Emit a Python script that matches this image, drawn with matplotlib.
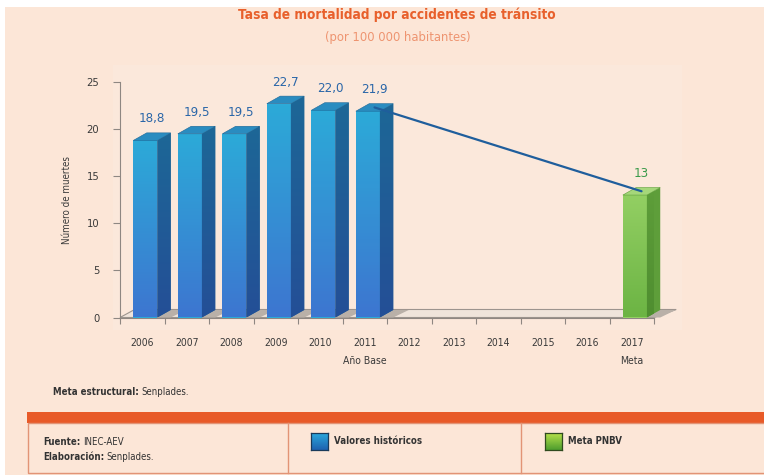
import numpy as np
import matplotlib
matplotlib.use("Agg")
import matplotlib.pyplot as plt
from matplotlib.patches import Polygon, Rectangle
from matplotlib.colors import LinearSegmentedColormap
from matplotlib import font_manager

# ---------------- data ----------------
years = ['2006', '2007', '2008', '2009', '2010', '2011',
         '2012', '2013', '2014', '2015', '2016', '2017']
hist_years = ['2006', '2007', '2008', '2009', '2010', '2011']
hist_values = [18.8, 19.5, 19.5, 22.7, 22.0, 21.9]
hist_labels = ['18,8', '19,5', '19,5', '22,7', '22,0', '21,9']
meta_year = '2017'
meta_value = 13
meta_label = '13'
yticks = [0, 5, 10, 15, 20, 25]
title = 'Tasa de mortalidad por accidentes de tránsito'
subtitle = '(por 100 000 habitantes)'
ylabel = 'Número de muertes'

names = {f.name for f in font_manager.fontManager.ttflist}
cond = [f for f in font_manager.fontManager.ttflist
        if f.name == 'DejaVu Sans' and f.stretch in ('condensed', 'semi-condensed', 600, 500)]
if 'Liberation Sans Narrow' in names:
    FONT = ['Liberation Sans Narrow', 'DejaVu Sans']
    plt.rcParams['font.stretch'] = 'normal'
elif cond:
    FONT = ['DejaVu Sans']
    plt.rcParams['font.stretch'] = 'condensed'
else:
    FONT = ['Liberation Sans', 'DejaVu Sans']
plt.rcParams['font.family'] = FONT

W, H = 764, 475
fig = plt.figure(figsize=(W / 100, H / 100), dpi=100)
fig.patch.set_facecolor('white')

def fx(px):
    return px / W

def fy(py):
    return 1 - py / H

BG = '#FCE6D7'
fig.add_artist(Rectangle((fx(5), 0), 1, fy(7), transform=fig.transFigure,
                         facecolor=BG, edgecolor='none', zorder=-10))
fig.add_artist(Rectangle((fx(113), fy(330)), fx(682 - 113), (330 - 65) / H,
                         transform=fig.transFigure, facecolor='#FBE8DB',
                         edgecolor='none', zorder=-9))

# ---------------- axes ----------------
ax_l, ax_r, ax_t, ax_b = 120, 654, 82, 317.5
ax = fig.add_axes([fx(ax_l), fy(ax_b), fx(ax_r - ax_l), (ax_b - ax_t) / H])
ax.set_facecolor('none')
n = len(years)
ax.set_xlim(-0.5, n - 0.5)
ax.set_ylim(0, 25)

xpos = {y: i for i, y in enumerate(years)}
DX, DY = 0.30, 0.8
FL, FR = -0.2, 0.34

def grad_fill(ax, patch, c_top, c_bot):
    cmap = LinearSegmentedColormap.from_list('g', [c_bot, c_top])
    verts = patch.get_xy()
    x0, x1 = verts[:, 0].min(), verts[:, 0].max()
    y0, y1 = verts[:, 1].min(), verts[:, 1].max()
    arr = np.linspace(0, 1, 64)[:, None]
    im = ax.imshow(arr, cmap=cmap, extent=[x0, x1, y0, y1], origin='lower',
                   aspect='auto', zorder=patch.get_zorder(), clip_on=True)
    im.set_clip_path(patch)

floor = Polygon([(-0.5, 0), (n - 0.5, 0), (n - 0.5 + 0.5, 0.85), (-0.5 + 0.33, 0.85)],
                closed=True, facecolor='#EFE4DB', edgecolor='#9C948E', lw=0.8,
                zorder=1, clip_on=False)
ax.add_patch(floor)

def bar3d(i, v, front_top, front_bot, side_top, side_bot, top_c, edge):
    x0, x1 = i + FL, i + FR
    sh = Polygon([(x0, 0), (x1 + DX, 0), (x1 + DX + 0.35, DY), (x0 + DX, DY)],
                 closed=True, facecolor='#B9B0A8', edgecolor='none', zorder=1.5,
                 clip_on=False)
    ax.add_patch(sh)
    front = Polygon([(x0, 0), (x1, 0), (x1, v), (x0, v)], closed=True,
                    facecolor=front_top, edgecolor='none', zorder=3, clip_on=False)
    ax.add_patch(front)
    grad_fill(ax, front, front_top, front_bot)
    side = Polygon([(x1, 0), (x1 + DX, DY), (x1 + DX, v + DY), (x1, v)], closed=True,
                   facecolor=side_top, edgecolor='none', zorder=3, clip_on=False)
    ax.add_patch(side)
    grad_fill(ax, side, side_top, side_bot)
    top = Polygon([(x0, v), (x1, v), (x1 + DX, v + DY), (x0 + DX, v + DY)],
                  closed=True, facecolor=top_c, edgecolor=edge, lw=0.4,
                  zorder=3.5, clip_on=False)
    ax.add_patch(top)

for y, v in zip(hist_years, hist_values):
    bar3d(xpos[y], v, '#2CAAD8', '#3D76D0', '#1D6797', '#244F96', '#2A8CC0', '#1D6797')
bar3d(xpos[meta_year], meta_value, '#93CF63', '#6CB444', '#5E9E3A', '#4F8E30',
      '#A5D77A', '#5E9E3A')

def top_center(i, v):
    return i + (FL + FR) / 2 + DX / 2, v + DY / 2

xa, ya = top_center(xpos[hist_years[-1]], hist_values[-1])
xb, yb = top_center(xpos[meta_year], meta_value)
ax.plot([xa, xb], [ya, yb], color='#1F5E9C', lw=1.6, zorder=5,
        solid_capstyle='round', clip_on=False)

for y, v, lab in zip(hist_years, hist_values, hist_labels):
    cx, cy = top_center(xpos[y], v)
    ax.text(cx, v + DY + 0.8, lab, ha='center', va='bottom', fontsize=9.5,
            color='#2A66A8', zorder=6)
cx, cy = top_center(xpos[meta_year], meta_value)
ax.text(cx, meta_value + DY + 0.8, meta_label, ha='center', va='bottom',
        fontsize=9.5, color='#3A9A4A', zorder=6)

for s in ['top', 'right']:
    ax.spines[s].set_visible(False)
for s in ['left', 'bottom']:
    ax.spines[s].set_color('#8E8782')
    ax.spines[s].set_linewidth(0.8)
    ax.spines[s].set_zorder(2)
ax.set_yticks(yticks)
ax.set_yticklabels([str(t) for t in yticks])
ax.tick_params(axis='y', direction='out', length=5, width=0.8, color='#8E8782',
               labelsize=8, labelcolor='#3A3A3A', pad=10)
ax.set_xticks(range(n))
ax.set_xticklabels(years)
ax.set_xticks([i + 0.5 for i in range(-1, n)], minor=True)
ax.tick_params(axis='x', which='major', length=0, labelsize=7.5,
               labelcolor='#3A3A3A', pad=15)
ax.tick_params(axis='x', which='minor', direction='out', length=4, width=0.8,
               color='#8E8782')
ax.set_ylabel(ylabel, fontsize=7, color='#3A3A3A')
ax.yaxis.set_label_coords(-48 / (ax_r - ax_l), 0.5)

trans = ax.get_xaxis_transform()
ax.text(xpos['2011'], -(361 - ax_b) / (ax_b - ax_t), 'Año Base', transform=trans,
        ha='center', va='center', fontsize=7.5, color='#3A3A3A')
ax.text(xpos[meta_year], -(361 - ax_b) / (ax_b - ax_t), 'Meta', transform=trans,
        ha='center', va='center', fontsize=7.5, color='#3A3A3A')

fig.text(fx(397), fy(15), title, ha='center', va='center', fontsize=9.8,
         fontweight='bold', color='#E8602C')
fig.text(fx(398), fy(37), subtitle, ha='center', va='center', fontsize=9.3,
         color='#EE9470')

renderer = fig.canvas.get_renderer()

def two_part(px, py, bold, normal, size=6.9, color='#333333'):
    t = fig.text(fx(px), fy(py), bold, ha='left', va='center', fontsize=size,
                 fontweight='bold', color=color)
    bb = t.get_window_extent(renderer=renderer)
    fig.text(bb.x1 / W + fx(2.5), fy(py), normal, ha='left', va='center',
             fontsize=size, color=color)

two_part(53, 392, 'Meta estructural:', 'Senplades.')

ORANGE = '#E85A28'
LINE = '#E29476'
fig.add_artist(Rectangle((fx(27), fy(423)), 1, 11 / H, transform=fig.transFigure,
                         facecolor=ORANGE, edgecolor='none'))
fig.add_artist(Rectangle((fx(27.5), fy(473)), 1, 50 / H, transform=fig.transFigure,
                         facecolor='none', edgecolor=LINE, lw=1.0))
for xd in [288, 521]:
    fig.add_artist(plt.Line2D([fx(xd), fx(xd)], [fy(473), fy(423)],
                              transform=fig.transFigure, color=LINE, lw=1.0))

two_part(43, 442, 'Fuente:', 'INEC-AEV')
two_part(43, 457, 'Elaboración:', 'Senplades.')

def swatch(px, py, c_top, c_bot, edge):
    sax = fig.add_axes([fx(px), fy(py + 17), fx(17), 17 / H])
    cmap = LinearSegmentedColormap.from_list('s', [c_bot, c_top])
    sax.imshow(np.linspace(0, 1, 32)[:, None], cmap=cmap, origin='lower',
               aspect='auto', extent=[0, 1, 0, 1])
    sax.set_xticks([])
    sax.set_yticks([])
    for s in sax.spines.values():
        s.set_color(edge)
        s.set_linewidth(0.9)

swatch(311, 433, '#2BA8DC', '#1F62B0', '#1A3A5A')
fig.text(fx(334), fy(441), 'Valores históricos', ha='left', va='center',
         fontsize=6.9, fontweight='bold', color='#333333')
swatch(545, 433, '#B6E04A', '#4E9E2E', '#2F4A1E')
fig.text(fx(568), fy(441), 'Meta PNBV', ha='left', va='center',
         fontsize=6.9, fontweight='bold', color='#333333')

fig.savefig('out.png', dpi=100, facecolor=fig.get_facecolor())
